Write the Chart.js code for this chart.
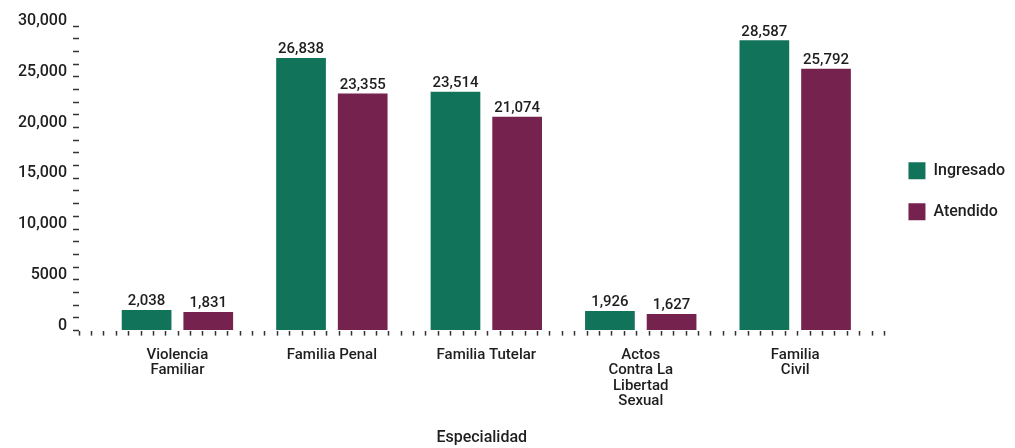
<!DOCTYPE html>
<html><head><meta charset="utf-8">
<script src="https://cdn.jsdelivr.net/npm/chart.js@4.4.1/dist/chart.umd.min.js"></script>
<style>html,body{margin:0;padding:0;background:#fff;} #wrap{width:1015px;height:448px;}</style>
</head><body><div id="wrap"><canvas id="c" width="1015" height="448"></canvas></div>
<script>
const categories = [['Violencia', 'Familiar'], ['Familia Penal'], ['Familia Tutelar'], ['Actos', 'Contra La', 'Libertad', 'Sexual'], ['Familia', 'Civil']];
const ingresado = [2038, 26838, 23514, 1926, 28587];
const atendido = [1831, 23355, 21074, 1627, 25792];
const seriesNames = ['Ingresado', 'Atendido'];
const seriesColors = ['#11735a', '#75224f'];
const yTickLabels = ['0', '5000', '10,000', '15,000', '20,000', '25,000', '30,000'];
const axisTitle = 'Especialidad';

const FONT = 'Roboto';
const W = 500;
const TXT = '#1e1e1e';
const TICK = '#333';
const fmt = v => v.toLocaleString('en-US');

const toPoints = arr => arr.map((v, i) => ({x: i, y: v}));

const valueLabels = {
  id: 'valueLabels',
  afterDatasetsDraw(chart) {
    const ctx = chart.ctx;
    ctx.save();
    ctx.font = W + ' 15px ' + FONT;
    ctx.fillStyle = TXT;
    ctx.textAlign = 'center';
    ctx.textBaseline = 'bottom';
    chart.data.datasets.forEach((ds, di) => {
      const meta = chart.getDatasetMeta(di);
      meta.data.forEach((bar, i) => {
        ctx.fillText(fmt(ds.data[i].y), bar.x, bar.y - 1);
      });
    });
    ctx.restore();
  }
};

function draw() {
  new Chart(document.getElementById('c'), {
    type: 'bar',
    data: {
      datasets: [
        {label: seriesNames[0], data: toPoints(ingresado), backgroundColor: seriesColors[0], borderWidth: 0, xAxisID: 'x', categoryPercentage: 0.7985, barPercentage: 0.806},
        {label: seriesNames[1], data: toPoints(atendido), backgroundColor: seriesColors[1], borderWidth: 0, xAxisID: 'x', categoryPercentage: 0.7985, barPercentage: 0.806}
      ]
    },
    options: {
      responsive: false,
      animation: false,
      layout: {padding: {left: 12, top: 26, right: 0, bottom: 0}},
      plugins: {
        legend: {
          position: 'right',
          align: 'start',
          title: {display: true, text: ' ', font: {family: FONT, size: 16}, padding: {top: 0, bottom: 93}},
          labels: {boxWidth: 17, boxHeight: 17, padding: 24, color: TXT, font: {family: FONT, size: 16, weight: W}}
        },
        tooltip: {enabled: false}
      },
      scales: {
        xt: {
          axis: 'x', type: 'linear', position: 'bottom', weight: 0,
          min: 0, max: 64,
          ticks: {display: false, stepSize: 1},
          grid: {drawOnChartArea: false, tickLength: 5, tickColor: TICK, tickWidth: 1.5},
          border: {display: false}
        },
        x: {
          type: 'linear', position: 'bottom', weight: 1,
          min: -0.637, max: 4.578,
          offset: false,
          ticks: {
            stepSize: 1, includeBounds: false, autoSkip: false, maxRotation: 0,
            color: TXT, padding: 12,
            font: {family: FONT, size: 15, lineHeight: 1.02, weight: W},
            callback: v => (Number.isInteger(v) && categories[v]) ? categories[v] : ''
          },
          grid: {display: false, drawTicks: false},
          border: {display: false},
          title: {display: true, text: axisTitle, color: TXT, font: {family: FONT, size: 16, weight: W}, padding: {top: 8, bottom: 0}}
        },
        y: {
          min: 0, max: 30000,
          ticks: {
            stepSize: 1250, autoSkip: false, labelOffset: -5, padding: 6,
            color: TXT, font: {family: FONT, size: 16, weight: W},
            callback: v => (v % 5000 === 0) ? yTickLabels[v / 5000] : ''
          },
          grid: {drawOnChartArea: false, tickLength: 6, tickColor: TICK, tickWidth: 1.5},
          border: {display: false}
        }
      }
    },
    plugins: [valueLabels]
  });
}
if (document.fonts && document.fonts.load) {
  Promise.all([document.fonts.load('16px ' + FONT), document.fonts.load(W + ' 16px ' + FONT)]).then(draw, draw);
} else { draw(); }
</script>
</body></html>
